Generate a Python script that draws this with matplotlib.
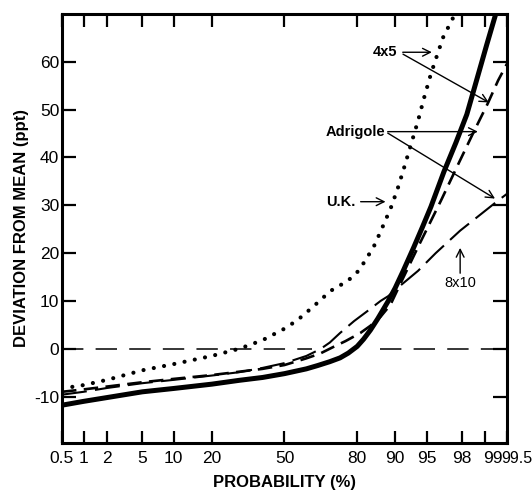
import math
from statistics import NormalDist

import numpy as np
import matplotlib
matplotlib.use("Agg")
import matplotlib.pyplot as plt
import matplotlib.transforms as mtransforms

plt.rcParams['font.family'] = ['Liberation Sans', 'DejaVu Sans']
plt.rcParams['axes.unicode_minus'] = False

# cumulative probability (%) and deviation from mean (ppt) for each curve
uk_p = [0.5, 1, 2, 5, 10, 20, 30, 40, 50, 56, 63, 70.3, 76.8, 80, 82, 84.9, 86.7, 89.1, 90.5,
        91.6, 92.8, 93.9, 94.7, 95.5, 96.2, 96.7, 97.5, 97.7]
uk_dev = [-8.3, -7.6, -6.5, -4.5, -3.2, -1.5, 0.0, 1.8, 4.2, 6.0, 8.8, 12.1, 14.2, 16.0, 17.9, 21.3,
          24.5, 29.5, 33.5, 37.5, 42.5, 47.7, 52.5, 57.5, 61.8, 65.2, 69.5, 71.0]

adrigole_p = [0.5, 1, 2, 5, 10, 20, 30, 40, 50, 60, 65, 70, 74, 77, 80, 82, 84, 86, 88.4, 90,
              91.5, 93.3, 94.5, 95.5, 96.75, 97.64, 98.26, 98.7, 99.04, 99.28, 99.35]
adrigole_dev = [-11.8, -11.0, -10.2, -9.0, -8.3, -7.4, -6.6, -6.0, -5.2, -4.2, -3.5, -2.7, -1.9, -0.9,
                0.5, 2.0, 3.9, 6.3, 9.8, 12.7, 16.2, 21.3, 25.5, 29.7, 37.0, 43.1, 49.0, 56.3, 63.6,
                70.1, 72.0]

grid4x5_p = [0.5, 1, 2, 5, 10, 20, 30, 40, 50, 60, 66, 71.5, 76, 81, 84, 86.7, 89, 91.1, 93.9,
             96.5, 97.8, 98.6, 99.07, 99.33, 99.5]
grid4x5_dev = [-9.0, -8.5, -7.9, -7.0, -6.3, -5.5, -4.8, -4.2, -3.4, -2.0, -1.0, 0.4, 1.6, 3.3, 4.8,
               6.7, 9.2, 13.8, 21.3, 31.0, 38.7, 45.6, 51.3, 56.1, 59.6]

grid8x10_p = [0.5, 1, 2, 5, 10, 20, 30, 40, 50, 60, 66, 70, 74, 79, 83, 86.7, 88.5, 91, 93.9,
              96, 97.9, 99.33, 99.5]
grid8x10_dev = [-9.6, -9.0, -8.2, -7.2, -6.5, -5.6, -4.9, -4.0, -3.0, -1.5, -0.1, 1.3, 3.3, 5.8, 7.8,
                10.0, 11.0, 13.2, 16.3, 20.0, 24.7, 31.0, 32.4]

x_ticks = [0.5, 1, 2, 5, 10, 20, 50, 80, 90, 95, 98, 99, 99.5]
x_ticklabels = ['0.5', '1', '2', '5', '10', '20', '50', '80', '90', '95', '98', '99', '99.5']
y_ticks = [-10, 0, 10, 20, 30, 40, 50, 60]

_nd = NormalDist()
_inv = np.vectorize(lambda v: _nd.inv_cdf(v / 100.0), otypes=[float])
_cdf = np.vectorize(lambda v: 50.0 * (1 + math.erf(v / math.sqrt(2))), otypes=[float])


def prob_forward(p):
    p = np.clip(np.asarray(p, dtype=float), 1e-6, 100 - 1e-6)
    return _inv(p)


def prob_inverse(z):
    return _cdf(np.asarray(z, dtype=float))


fig = plt.figure(figsize=(5.32, 4.91), dpi=100)
ax = fig.add_axes([0.1165, 0.0978, 0.8365, 0.8737])
ax.set_xscale('function', functions=(prob_forward, prob_inverse))

ax.plot(uk_p, uk_dev, color='black', lw=3.0, linestyle=(0, (0.01, 2.5)),
        dash_capstyle='round', solid_capstyle='round')
ax.plot(adrigole_p, adrigole_dev, color='black', lw=3.6, solid_capstyle='round',
        solid_joinstyle='round')
ax.plot(grid4x5_p, grid4x5_dev, color='black', lw=1.9, linestyle=(0, (5.5, 2.8)))
ax.plot(grid8x10_p, grid8x10_dev, color='black', lw=1.5, linestyle=(0, (12, 4)))

# zero reference line, broken where the curves cross it
ax.plot([0.5, 62.7], [0, 0], color='black', lw=1.1, linestyle=(0, (14, 8)))
ax.plot([86.5, 99.5], [0, 0], color='black', lw=1.1, linestyle=(0, (14, 8)))

ax.set_xlim(0.5, 99.5)
ax.set_ylim(-19.7, 70)
ax.set_xticks(x_ticks)
ax.set_xticklabels(x_ticklabels)
ax.set_yticks(y_ticks)
ax.xaxis.set_minor_locator(matplotlib.ticker.NullLocator())

ax.tick_params(axis='both', direction='in', width=1.6, labelsize=12.5, color='black')
ax.tick_params(axis='x', length=9, top=True, pad=6)
ax.tick_params(axis='y', length=10, right=True, pad=2)
for s in ax.spines.values():
    s.set_linewidth(2.2)

# nudge the crowded labels at the right end
labels = ax.get_xticklabels()
labels[-2].set_transform(labels[-2].get_transform() +
                         mtransforms.ScaledTranslation(0.07, 0, fig.dpi_scale_trans))
labels[-1].set_fontsize(11.5)
labels[-1].set_transform(labels[-1].get_transform() +
                         mtransforms.ScaledTranslation(0.095, 0, fig.dpi_scale_trans))

ax.set_xlabel('PROBABILITY (%)', fontsize=12, fontweight='bold', labelpad=6)
ax.set_ylabel('DEVIATION FROM MEAN (ppt)', fontsize=12, fontweight='bold', labelpad=4)

arrow = dict(arrowstyle='->', color='black', lw=1.0, mutation_scale=14, shrinkA=0, shrinkB=0)
txt = dict(fontsize=10.5, fontweight='bold', va='center')

ax.text(90.5, 62.0, '4x5', ha='right', **txt)
ax.annotate('', xy=(95.6, 62.0), xytext=(91.45, 62.0), arrowprops=arrow)
ax.annotate('', xy=(99.1, 51.5), xytext=(91.5, 61.6), arrowprops=arrow)

ax.text(87.9, 45.4, 'Adrigole', ha='right', **txt)
ax.annotate('', xy=(98.74, 45.4), xytext=(88.4, 45.4), arrowprops=arrow)
ax.annotate('', xy=(99.26, 31.4), xytext=(88.4, 45.1), arrowprops=arrow)

ax.text(79.5, 30.75, 'U.K.', ha='right', **txt)
ax.annotate('', xy=(87.9, 30.75), xytext=(81.1, 30.75), arrowprops=arrow)

ax.text(97.9, 13.8, '8x10', ha='center', fontsize=10.5, va='center')
ax.annotate('', xy=(97.9, 21.1), xytext=(97.9, 15.8), arrowprops=arrow)

fig.savefig('out.png', dpi=100)
